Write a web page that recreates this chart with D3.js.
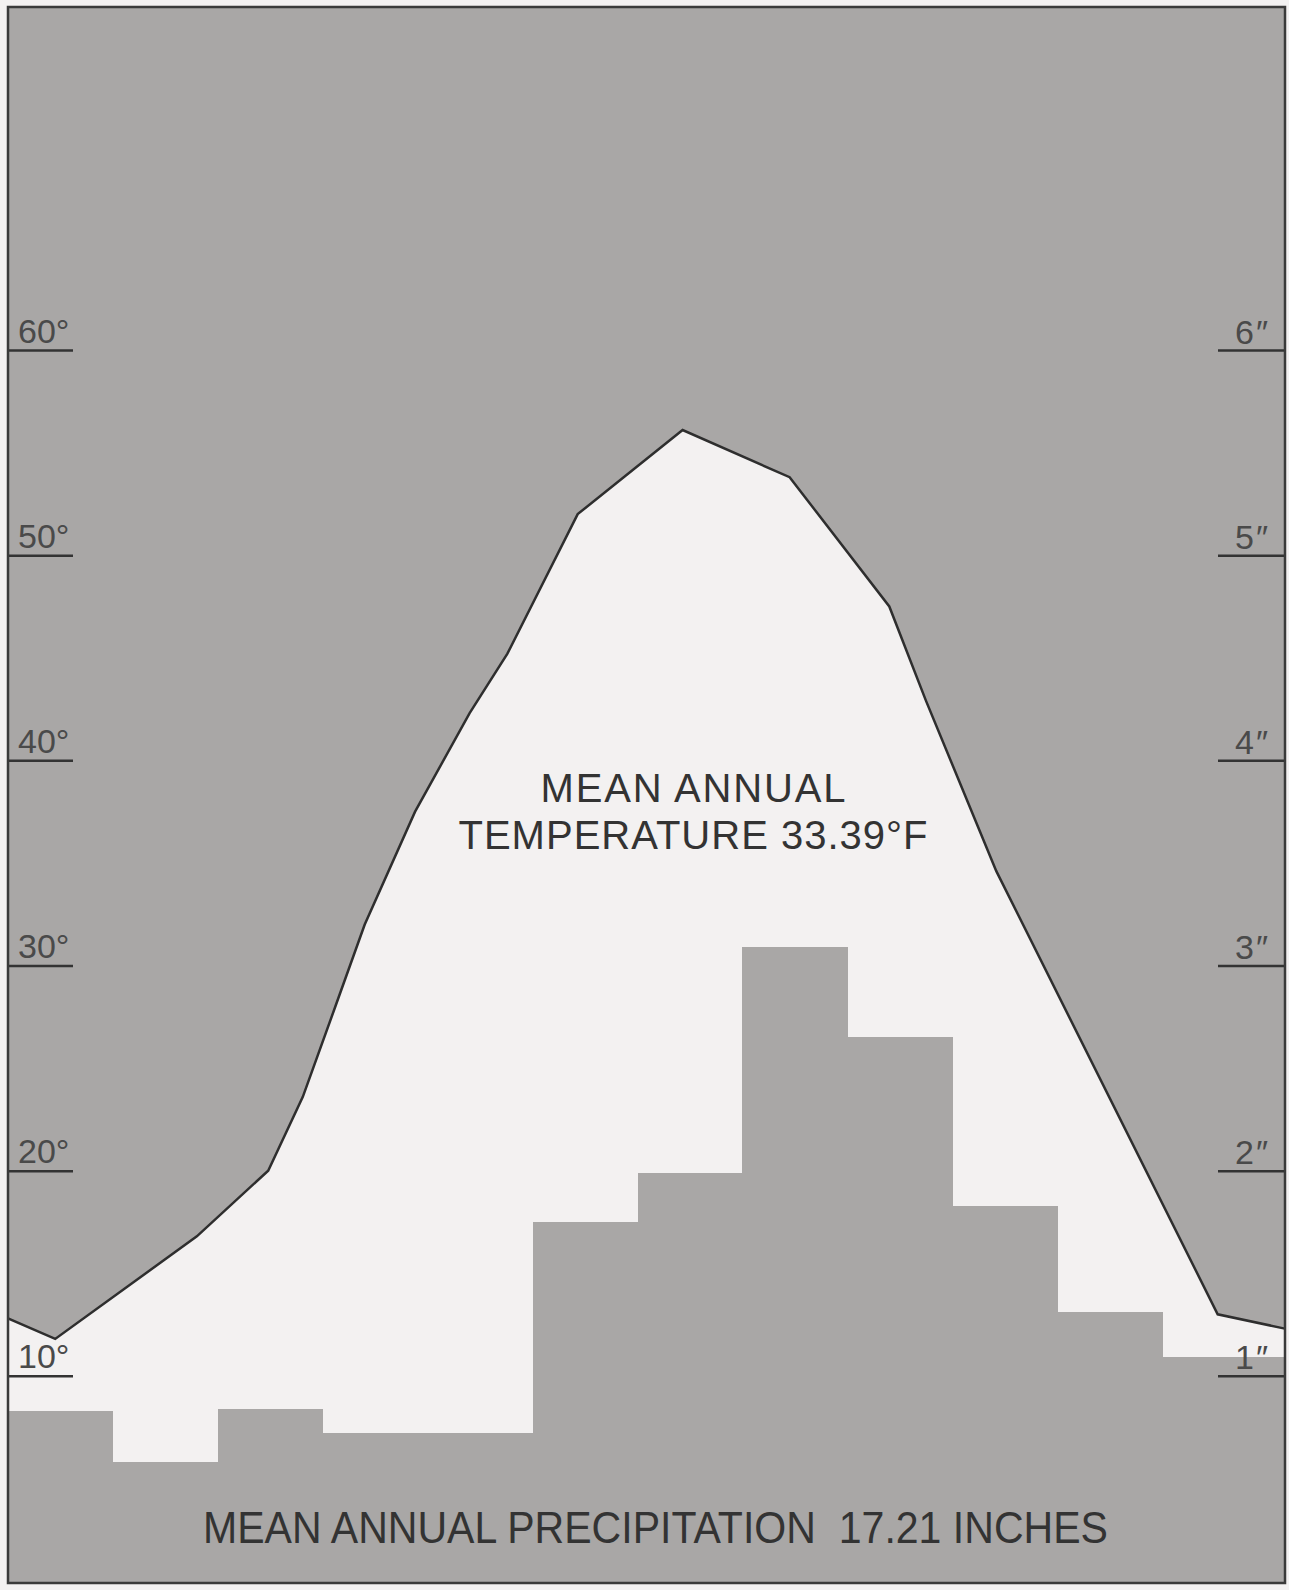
<!DOCTYPE html>
<html>
<head>
<meta charset="utf-8">
<script src="https://cdn.jsdelivr.net/npm/d3@7"></script>
<style>
    body { margin: 0; background: #f3f1f1; }
    svg { display: block; }
</style>
</head>
<body>
<div id="chart"></div>
<script>

// monthly precipitation, inches (Jan..Dec)
var months = ["Jan", "Feb", "Mar", "Apr", "May", "Jun", "Jul", "Aug", "Sep", "Oct", "Nov", "Dec"];
var precipInches = [0.83, 0.58, 0.84, 0.72, 0.72, 1.75, 1.99, 3.09, 2.65, 1.83, 1.31, 1.09];

// temperature curve: position in the year (months) and degrees F
var tempMonth = [0, 0.45, 1.80, 2.48, 2.81, 3.12, 3.40, 3.88, 4.40, 4.76, 5.43, 6.43, 7.45, 8.40, 8.75, 9.42, 11.53, 12.17];
var tempDegF  = [12.8, 11.8, 16.8, 20.0, 23.6, 28.0, 32.0, 37.5, 42.3, 45.2, 52.0, 56.1, 53.8, 47.5, 42.9, 34.6, 13.0, 12.3];

var tempTicks = [10, 20, 30, 40, 50, 60];
var precipTicks = [1, 2, 3, 4, 5, 6];

var tempCaption = ["MEAN ANNUAL", "TEMPERATURE 33.39°F"];
var precipCaption = "MEAN ANNUAL PRECIPITATION  17.21 INCHES";

function drawClimateChart(selector){

    var width = 1289, height = 1590;
    var left = 8, top = 7, right = 1285, bottom = 1583;

    var grey = "#a9a7a6", paper = "#f3f1f1", ink = "#2e2e2e";

    var svg = d3.select(selector)
        .append("svg")
        .attr("width", width)
        .attr("height", height)

    svg.append("clipPath")
        .attr("id", "frameclip")
        .append("rect")
        .attr("x", left).attr("y", top)
        .attr("width", right - left).attr("height", bottom - top);

    var x = d3.scaleLinear()
        .domain([0, 12])
        .range([left, 1267]);

    var yTemp = d3.scaleLinear()
        .domain([0, 60])
        .range([1581, 350]);

    var yPrec = d3.scaleLinear()
        .domain([0, 6])
        .range([1581, 350]);

    var tempData = tempMonth.map(function(m, i){ return {m: m, t: tempDegF[i]}; });

    var plot = svg.append("g").attr("clip-path", "url(#frameclip)");

    plot.append("rect")
        .attr("x", left).attr("y", top)
        .attr("width", right - left).attr("height", bottom - top)
        .attr("fill", grey);

    // white region under the temperature curve
    plot.append("path")
        .datum(tempData)
        .attr("fill", paper)
        .attr("d", d3.area()
            .x(function(d){ return x(d.m); })
            .y0(yTemp(0))
            .y1(function(d){ return yTemp(d.t); }));

    plot.selectAll(".bar")
        .data(precipInches)
        .enter().append("rect")
        .attr("class", "bar")
        .attr("fill", grey)
        .attr("shape-rendering", "crispEdges")
        .attr("x", function(d, i){ return x(i); })
        .attr("width", function(d, i){
            // last month runs out to the frame
            return i == months.length - 1 ? right - x(i) : x(i + 1) - x(i) + 0.5;
        })
        .attr("y", function(d){ return yPrec(d); })
        .attr("height", function(d){ return yPrec(0) - yPrec(d) + 4; });

    plot.append("path")
        .datum(tempData)
        .attr("fill", "none")
        .attr("stroke", ink)
        .attr("stroke-width", 2.5)
        .attr("stroke-linejoin", "miter")
        .attr("d", d3.line()
            .x(function(d){ return x(d.m); })
            .y(function(d){ return yTemp(d.t); }));

    // temperature scale, left
    var leftAxis = svg.append("g")
        .attr("transform", "translate(" + left + ",0)")
        .call(d3.axisRight(yTemp)
            .tickValues(tempTicks)
            .tickSize(65)
            .tickFormat(function(d){ return d + "°"; }));

    // precipitation scale, right
    var rightAxis = svg.append("g")
        .attr("transform", "translate(" + right + ",0)")
        .call(d3.axisLeft(yPrec)
            .tickValues(precipTicks)
            .tickSize(67)
            .tickFormat(function(d){ return d + "″"; }));

    [leftAxis, rightAxis].forEach(function(g){
        g.select(".domain").remove();
        g.selectAll(".tick line")
            .attr("stroke", "#333")
            .attr("stroke-width", 2.5);
        g.selectAll(".tick text")
            .attr("fill", "#4a4a4a")
            .style("font-family", "'Liberation Sans', Arial, sans-serif")
            .style("font-size", "34px")
            .attr("dy", 0);
    });

    leftAxis.selectAll(".tick text")
        .attr("x", 10)
        .attr("y", -8)
        .attr("text-anchor", "start");

    rightAxis.selectAll(".tick text")
        .attr("x", -15)
        .attr("y", -7)
        .attr("text-anchor", "end")
        .attr("letter-spacing", 2);

    svg.selectAll(".tempcaption")
        .data(tempCaption)
        .enter().append("text")
        .attr("class", "tempcaption")
        .attr("x", 693)
        .attr("y", function(d, i){ return 802 + i * 47; })
        .attr("text-anchor", "middle")
        .attr("textLength", function(d, i){ return i == 0 ? 305 : 469; })
        .attr("lengthAdjust", "spacing")
        .attr("fill", "#333")
        .style("font-family", "'Liberation Sans', Arial, sans-serif")
        .style("font-size", "40px")
        .text(function(d){ return d; });

    svg.append("text")
        .attr("x", 203)
        .attr("y", 1543)
        .attr("textLength", 905)
        .attr("lengthAdjust", "spacingAndGlyphs")
        .attr("fill", "#333")
        .style("white-space", "pre")
        .style("font-family", "'Liberation Sans', Arial, sans-serif")
        .style("font-size", "45px")
        .text(precipCaption);

    svg.append("rect")
        .attr("x", left).attr("y", top)
        .attr("width", right - left).attr("height", bottom - top)
        .attr("fill", "none")
        .attr("stroke", "#3a3a3a")
        .attr("stroke-width", 2.5);
}

drawClimateChart("#chart");
</script>
</body>
</html>
